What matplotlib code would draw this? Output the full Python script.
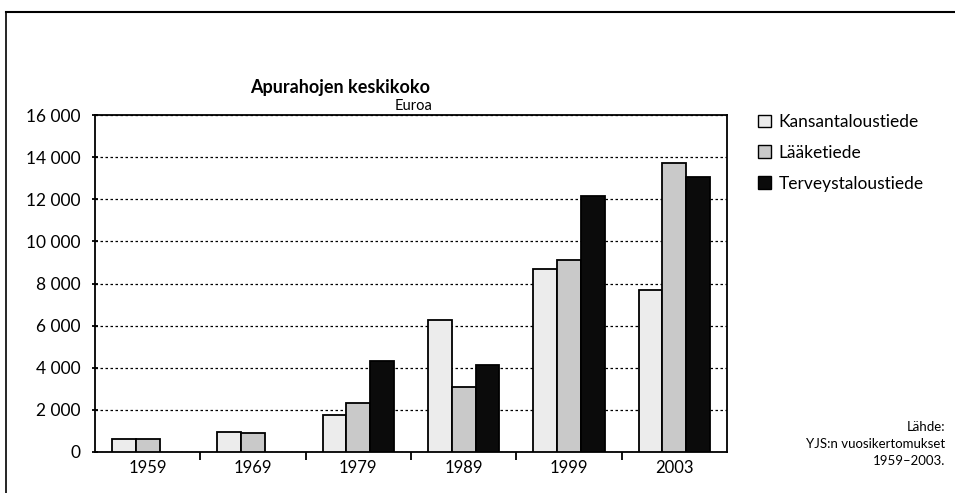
import numpy as np
import matplotlib.pyplot as plt
from matplotlib.lines import Line2D
from matplotlib.patches import Patch

# Tiedot
years = ['1959', '1969', '1979', '1989', '1999', '2003']
kansantaloustiede = [600, 950, 1750, 6250, 8700, 7700]
laaketiede = [600, 920, 2350, 3100, 9100, 13700]
terveystaloustiede = [0, 0, 4300, 4150, 12150, 13050]
series_names = ['Kansantaloustiede', 'Lääketiede', 'Terveystaloustiede']
colors = ['#ececec', '#c9c9c9', '#0b0b0b']

plt.rcParams['font.family'] = ['Lato', 'DejaVu Sans']

fig = plt.figure(figsize=(9.55, 4.93), dpi=100)
ax = fig.add_axes([95 / 955, 1 - 452 / 493, 632 / 955, 337 / 493])

x = np.arange(len(years))
w = 0.225
for i, (vals, c) in enumerate(zip([kansantaloustiede, laaketiede, terveystaloustiede], colors)):
    v = np.array(vals, dtype=float)
    mask = v > 0
    ax.bar(x[mask] + (i - 1) * w, v[mask], width=w, color=c,
           edgecolor='black', linewidth=1.3, zorder=3)

ax.set_xlim(-0.5, len(years) - 0.5)
ax.set_ylim(0, 16000)
ax.set_yticks(np.arange(0, 16001, 2000))
ax.set_yticklabels([f'{v:,}'.replace(',', ' ') for v in range(0, 16001, 2000)], fontsize=12.5)
ax.yaxis.grid(True, linestyle=(0, (2, 2)), color='black', linewidth=0.9, zorder=0)

ax.set_xticks(x)
ax.set_xticklabels(years, fontsize=12)
ax.tick_params(axis='x', length=0, pad=6)
ax.set_xticks(np.arange(0.5, len(years) - 0.5), minor=True)
ax.tick_params(axis='x', which='minor', length=6, width=1.3, direction='out')
ax.tick_params(axis='y', length=5, width=1.3, direction='inout', pad=8)
for s in ax.spines.values():
    s.set_linewidth(1.3)

fig.text(340 / 955, 1 - 88 / 493, 'Apurahojen keskikoko', ha='center', va='center',
         fontsize=13, fontweight='bold')
fig.text(432 / 955, 1 - 106 / 493, 'Euroa', ha='right', va='center', fontsize=10.5)

handles = [Patch(facecolor=c, edgecolor='black', linewidth=1) for c in colors]
fig.legend(handles, series_names, loc='upper left', bbox_to_anchor=(758 / 955, 1 - 114 / 493),
           frameon=False, fontsize=12.5, handlelength=0.75, handleheight=0.75,
           handletextpad=0.45, labelspacing=0.85, borderpad=0, borderaxespad=0)

fig.text(945 / 955, 1 - 444 / 493, 'Lähde:\nYJS:n vuosikertomukset\n1959–2003.',
         ha='right', va='center', fontsize=9.5, linespacing=1.5)

# Kehys
fig.add_artist(Line2D([6 / 955, 6 / 955], [0, 1 - 12 / 493], color='black', linewidth=1.2))
fig.add_artist(Line2D([6 / 955, 1], [1 - 12 / 493, 1 - 12 / 493], color='black', linewidth=1.5))

fig.savefig('out.png', dpi=100)
